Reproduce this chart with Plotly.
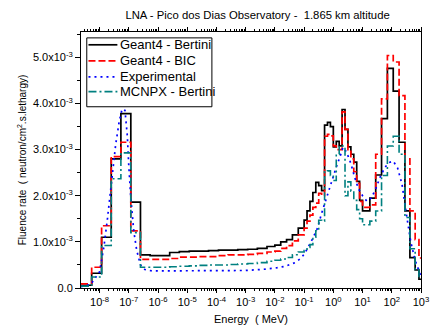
import plotly.graph_objects as go

# log10 of bin edge energies (MeV)
edges_log10 = [-8.635, -8.27, -7.93, -7.6, -7.27, -6.93, -6.6, -6.27, -5.93, -5.6,
               -5.27, -4.93, -4.6, -4.27, -3.93, -3.6, -3.27, -2.93, -2.6, -2.27,
               -2.0, -1.8, -1.6, -1.4, -1.2, -1.0, -0.9, -0.8, -0.7, -0.6,
               -0.5, -0.4, -0.3, -0.2, -0.1, 0.0, 0.1, 0.2, 0.3, 0.4,
               0.5, 0.6, 0.7, 0.8, 0.9, 1.0, 1.25, 1.45, 1.65, 1.85,
               2.05, 2.25, 2.45, 2.62, 2.8, 2.93, 3.0]

# fluence rate per bin, in units of 1e-3 neutron/cm2.s.lethargy
geant4_bertini = [0.06, 0.32, 1.10, 2.80, 3.78, 1.86, 0.72, 0.70, 0.70, 0.77,
                  0.79, 0.80, 0.80, 0.81, 0.82, 0.82, 0.83, 0.84, 0.86, 0.90,
                  0.93, 1.00, 1.05, 1.15, 1.30, 1.47, 1.67, 1.88, 2.07, 2.29,
                  2.22, 2.11, 3.53, 3.59, 3.50, 3.06, 3.18, 3.08, 3.87, 3.44,
                  3.06, 2.90, 2.73, 2.31, 1.90, 1.67, 1.95, 2.45, 3.67, 4.76,
                  4.27, 3.16, 1.67, 0.66, 0.39, 0.19]

geant4_bic = [0.09, 0.45, 1.35, 2.85, 3.16, 1.24, 0.62, 0.62, 0.62, 0.64,
              0.67, 0.67, 0.68, 0.68, 0.70, 0.72, 0.72, 0.73, 0.75, 0.78,
              0.80, 0.86, 0.92, 1.02, 1.15, 1.30, 1.45, 1.58, 1.75, 1.84,
              2.05, 2.00, 3.29, 3.33, 3.30, 3.08, 3.00, 3.00, 3.82, 3.44,
              3.00, 2.80, 2.52, 2.27, 1.88, 1.75, 1.80, 2.90, 4.10, 5.04,
              4.90, 4.17, 2.80, 1.67, 1.05, 0.65]

mcnpx_bertini = [0.04, 0.24, 0.92, 2.37, 2.93, 1.20, 0.45, 0.45, 0.45, 0.46,
                 0.47, 0.48, 0.49, 0.50, 0.50, 0.51, 0.52, 0.53, 0.55, 0.58,
                 0.60, 0.63, 0.66, 0.72, 0.78, 0.81, 0.88, 0.94, 1.10, 1.24,
                 1.47, 1.45, 2.52, 2.54, 2.44, 2.33, 2.90, 3.08, 3.08, 2.00,
                 2.30, 2.10, 1.90, 1.70, 1.50, 1.37, 1.45, 1.67, 2.44, 3.08,
                 3.29, 2.90, 1.53, 0.85, 0.40, 0.25]

# experimental spectrum (smooth curve): log10 energy (MeV) and value (1e-3)
exp_log10 = [-8.635, -8.3, -8.0, -7.85, -7.73, -7.6, -7.45, -7.33, -7.23, -7.13,
             -7.05, -7.0, -6.93, -6.83, -6.73, -6.6, -6.45, -6.2, -5.0, -4.0,
             -3.0, -2.5, -2.0, -1.65, -1.31, -1.1, -0.98, -0.74, -0.54, -0.41,
             -0.24, -0.07, 0.09, 0.23, 0.33, 0.45, 0.6, 0.73, 0.86, 1.0,
             1.15, 1.3, 1.45, 1.6, 1.75, 1.9, 2.05, 2.2, 2.35, 2.5,
             2.65, 2.8, 2.9, 3.0]
experimental = [0.03, 0.08, 0.35, 0.90, 1.50, 2.20, 3.10, 3.60, 3.88, 3.85,
                3.30, 2.65, 1.95, 1.24, 0.82, 0.50, 0.40, 0.37, 0.37, 0.38,
                0.38, 0.40, 0.43, 0.47, 0.55, 0.65, 0.75, 1.03, 1.30, 1.60,
                1.95, 2.30, 2.60, 2.85, 3.05, 2.95, 2.70, 2.40, 2.15, 2.00,
                1.88, 1.95, 2.15, 2.40, 2.60, 2.72, 2.75, 2.60, 2.25, 1.60,
                1.00, 0.60, 0.40, 0.25]

series_names = ["Geant4 - Bertini", "Geant4 - BIC", "Experimental", "MCNPX - Bertini"]
x_tick_exps = list(range(-8, 4))
y_tick_vals = [0.0, 1.0, 2.0, 3.0, 4.0, 5.0]

styles = {
    "Geant4 - Bertini": dict(color="black", width=1.7, dash="solid"),
    "Geant4 - BIC": dict(color="#ff0000", width=1.7, dash="7px,3px"),
    "Experimental": dict(color="#0000ff", width=1.7, dash="2px,4px"),
    "MCNPX - Bertini": dict(color="#008080", width=1.6, dash="8px,3px,2px,3px"),
}


def step_xy(vals):
    xs = [10 ** e for e in edges_log10]
    ys = [v * 1e-3 for v in vals] + [vals[-1] * 1e-3]
    return xs, ys


fig = go.Figure()
for name, vals in [("Geant4 - Bertini", geant4_bertini), ("Geant4 - BIC", geant4_bic)]:
    xs, ys = step_xy(vals)
    fig.add_trace(go.Scatter(x=xs, y=ys, name=name, mode="lines",
                             line=dict(shape="hv", **styles[name])))

fig.add_trace(go.Scatter(x=[10 ** e for e in exp_log10],
                         y=[v * 1e-3 for v in experimental],
                         name="Experimental", mode="lines",
                         line=styles["Experimental"]))

xs, ys = step_xy(mcnpx_bertini)
fig.add_trace(go.Scatter(x=xs, y=ys, name="MCNPX - Bertini", mode="lines",
                         line=dict(shape="hv", **styles["MCNPX - Bertini"])))

# Compact legend box (Origin style), drawn in paper coordinates
fig.add_shape(type="rect", xref="paper", yref="paper",
              x0=0.017, x1=0.385, y0=0.708, y1=0.977,
              line=dict(color="black", width=1), fillcolor="white", layer="above")
legend_rows = [0.950, 0.887, 0.825, 0.767]
for name, yr in zip(series_names, legend_rows):
    fig.add_shape(type="line", xref="paper", yref="paper",
                  x0=0.022, x1=0.107, y0=yr, y1=yr, layer="above",
                  line=styles[name])
    fig.add_annotation(text=name, xref="paper", yref="paper", x=0.110, y=yr,
                       xanchor="left", yanchor="middle", showarrow=False,
                       font=dict(size=13))

minor_x = [m * 10 ** e for e in range(-9, 3) for m in range(2, 10)]

font = "Liberation Sans, Arial, sans-serif"
# page has an 8px body margin, so the figure is sized to fit 439x334 exactly
fig.update_layout(
    width=431, height=326,
    margin=dict(l=73, r=10, t=24, b=42),
    paper_bgcolor="white", plot_bgcolor="white",
    font=dict(family=font, size=11, color="black"),
    title=dict(text="LNA - Pico dos Dias Observatory -  1.865 km altitude",
               x=0.579, xanchor="center", y=0.978, yanchor="middle",
               font=dict(size=11.3)),
    showlegend=False,
)
fig.update_xaxes(
    type="log", range=[-8.635, 3.0],
    tickvals=[10 ** e for e in x_tick_exps],
    ticktext=["10<sup>%d</sup>" % e for e in x_tick_exps],
    ticks="outside", ticklen=4, tickcolor="black",
    minor=dict(ticks="outside", ticklen=2, tickcolor="black",
               tickmode="array", tickvals=minor_x),
    showline=True, linecolor="black", linewidth=1, mirror="ticks",
    showgrid=False, zeroline=False,
    title=dict(text="Energy  ( MeV)", font=dict(size=11), standoff=8),
    tickfont=dict(size=11),
)
fig.update_yaxes(
    range=[0, 5.55e-3],
    tickvals=[v * 1e-3 for v in y_tick_vals],
    ticktext=["0.0"] + ["%.1fx10<sup>-3</sup>" % v for v in y_tick_vals[1:]],
    ticks="outside", ticklen=5, tickcolor="black",
    minor=dict(ticks="outside", ticklen=3, tickcolor="black", dtick=0.5e-3),
    showline=True, linecolor="black", linewidth=1, mirror=True,
    showgrid=False, zeroline=False,
    title=dict(text="Fluence rate  ( neutron/cm<sup>2</sup>.s.lethargy)",
               font=dict(size=10), standoff=4),
    tickfont=dict(size=11),
)

fig.write_html("out.html")
